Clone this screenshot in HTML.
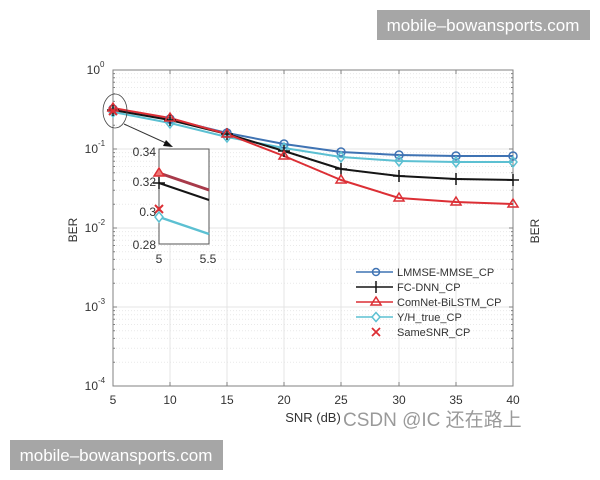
<!DOCTYPE html>
<html><head><meta charset="utf-8">
<style>
html,body{margin:0;padding:0;background:#fff;}
svg{display:block;}
text{font-family:"Liberation Sans",Arial,sans-serif;}
</style></head>
<body>
<svg width="600" height="480" viewBox="0 0 600 480" xmlns="http://www.w3.org/2000/svg">
<rect width="600" height="480" fill="#fff"/>
<!-- minor grid -->
<g stroke="#e9e9e9" stroke-width="1" stroke-dasharray="1 2" fill="none">
<path d="M113 73.6H513M113 77.7H513M113 82.2H513M113 87.5H513M113 93.8H513M113 101.4H513M113 111.3H513M113 125.2H513
M113 152.6H513M113 156.7H513M113 161.2H513M113 166.5H513M113 172.8H513M113 180.4H513M113 190.3H513M113 204.2H513
M113 231.6H513M113 235.7H513M113 240.2H513M113 245.5H513M113 251.8H513M113 259.4H513M113 269.3H513M113 283.2H513
M113 310.6H513M113 314.7H513M113 319.2H513M113 324.5H513M113 330.8H513M113 338.4H513M113 348.3H513M113 362.2H513"/>
</g>
<!-- major grid -->
<g stroke="#e4e4e4" stroke-width="1" fill="none">
<path d="M170 70V386M227 70V386M284 70V386M341 70V386M399 70V386M456 70V386M113 149H513M113 228H513M113 307H513"/>
</g>
<!-- axes box -->
<g stroke="#808080" stroke-width="1" fill="none">
<rect x="113" y="70" width="400" height="316"/>
<path d="M170 386v-4M227 386v-4M284 386v-4M341 386v-4M399 386v-4M456 386v-4
M170 70v4M227 70v4M284 70v4M341 70v4M399 70v4M456 70v4"/>
<path d="M113 149h4M113 228h4M113 307h4M513 149h-4M513 228h-4M513 307h-4"/>
<path d="M113 73.6h2M113 77.7h2M113 82.2h2M113 87.5h2M113 93.8h2M113 101.4h2M113 111.3h2M113 125.2h2
M113 152.6h2M113 156.7h2M113 161.2h2M113 166.5h2M113 172.8h2M113 180.4h2M113 190.3h2M113 204.2h2
M113 231.6h2M113 235.7h2M113 240.2h2M113 245.5h2M113 251.8h2M113 259.4h2M113 269.3h2M113 283.2h2
M113 310.6h2M113 314.7h2M113 319.2h2M113 324.5h2M113 330.8h2M113 338.4h2M113 348.3h2M113 362.2h2
M513 73.6h-2M513 77.7h-2M513 82.2h-2M513 87.5h-2M513 93.8h-2M513 101.4h-2M513 111.3h-2M513 125.2h-2
M513 152.6h-2M513 156.7h-2M513 161.2h-2M513 166.5h-2M513 172.8h-2M513 180.4h-2M513 190.3h-2M513 204.2h-2
M513 231.6h-2M513 235.7h-2M513 240.2h-2M513 245.5h-2M513 251.8h-2M513 259.4h-2M513 269.3h-2M513 283.2h-2
M513 310.6h-2M513 314.7h-2M513 319.2h-2M513 324.5h-2M513 330.8h-2M513 338.4h-2M513 348.3h-2M513 362.2h-2"/>
</g>

<!-- y tick labels -->
<g fill="#333" font-size="12">
<text x="100" y="74" text-anchor="end">10</text><text x="100" y="67" font-size="8">0</text>
<text x="98" y="153" text-anchor="end">10</text><text x="98" y="146" font-size="8">-1</text>
<text x="98" y="232" text-anchor="end">10</text><text x="98" y="225" font-size="8">-2</text>
<text x="98" y="311" text-anchor="end">10</text><text x="98" y="304" font-size="8">-3</text>
<text x="98" y="390" text-anchor="end">10</text><text x="98" y="383" font-size="8">-4</text>
</g>
<!-- x tick labels -->
<g fill="#333" font-size="12" text-anchor="middle">
<text x="113" y="404">5</text>
<text x="170" y="404">10</text>
<text x="227" y="404">15</text>
<text x="284" y="404">20</text>
<text x="341" y="404">25</text>
<text x="399" y="404">30</text>
<text x="456" y="404">35</text>
<text x="513" y="404">40</text>
</g>
<text x="313" y="422" fill="#333" font-size="13" text-anchor="middle">SNR (dB)</text>
<text x="343" y="426" fill="#9a9a9a" font-size="19" font-family="Liberation Sans, Noto Sans CJK SC, sans-serif">CSDN @IC 还在路上</text>
<text transform="translate(77,230) rotate(-90)" fill="#333" font-size="12" text-anchor="middle">BER</text>
<text transform="translate(539,231) rotate(-90)" fill="#333" font-size="12" text-anchor="middle">BER</text>

<!-- series lines -->
<g fill="none" stroke-width="2" stroke-linejoin="round">
<polyline stroke="#3f73b3" points="113,109 170,119 227,133 284,144 341,152 399,155 456,156 513,156"/>
<polyline stroke="#5cc0d2" points="113,112 170,123 227,137 284,148 341,157 399,161 456,162 513,162"/>
<polyline stroke="#151515" points="113,110 170,120 227,134 284,151 341,169 399,176 456,179 513,180"/>
<polyline stroke="#dc2f35" points="113,108 170,118 227,134 284,156 341,180 399,198 456,202 513,204"/>
</g>
<!-- markers -->
<g fill="none" stroke="#3f73b3" stroke-width="1.5">
<circle cx="113" cy="109" r="4"/><circle cx="170" cy="119" r="4"/><circle cx="227" cy="133" r="4"/><circle cx="284" cy="144" r="4"/><circle cx="341" cy="152" r="4"/><circle cx="399" cy="155" r="4"/><circle cx="456" cy="156" r="4"/><circle cx="513" cy="156" r="4"/>
</g>
<g fill="none" stroke="#5cc0d2" stroke-width="1.5">
<path d="M113 107l4 5-4 5-4-5zM170 118l4 5-4 5-4-5zM227 132l4 5-4 5-4-5zM284 143l4 5-4 5-4-5zM341 152l4 5-4 5-4-5zM399 156l4 5-4 5-4-5zM456 157l4 5-4 5-4-5zM513 157l4 5-4 5-4-5z"/>
</g>
<g fill="none" stroke="#151515" stroke-width="1.5">
<path d="M107 110h12M113 104v12M164 120h12M170 114v12M221 134h12M227 128v12M278 151h12M284 145v12M335 169h12M341 163v12M393 176h12M399 170v12M450 179h12M456 173v12M507 180h12M513 174v12"/>
</g>
<g fill="none" stroke="#dc2f35" stroke-width="1.5">
<path d="M113 103l5 8h-10zM170 113l5 8h-10zM227 129l5 8h-10zM284 151l5 8h-10zM341 175l5 8h-10zM399 193l5 8h-10zM456 197l5 8h-10zM513 199l5 8h-10z"/>
<path d="M109 107l8 8M117 107l-8 8" stroke-width="2"/>
</g>

<!-- ellipse + arrow -->
<ellipse cx="115" cy="111" rx="12" ry="17" fill="none" stroke="#444" stroke-width="0.8"/>
<line x1="124" y1="124" x2="168" y2="144" stroke="#333" stroke-width="1"/>
<path d="M173 147l-10 -1 3 -6z" fill="#111"/>

<!-- inset -->
<rect x="159" y="149" width="50" height="95" fill="#fff" stroke="#555" stroke-width="1"/>
<g fill="none" stroke-width="2.5">
<line x1="159" y1="173" x2="209" y2="190" stroke="#a83a4a" stroke-width="3"/>
<line x1="159" y1="183" x2="209" y2="200" stroke="#151515" stroke-width="2"/>
<line x1="159" y1="217" x2="209" y2="234" stroke="#5cc0d2"/>
</g>
<path d="M159 168l5 8h-10z" fill="#e77" stroke="#dc2f35" stroke-width="1.5"/>
<path d="M153 183h12M159 177v12" stroke="#151515" stroke-width="1.5"/>
<path d="M155 205l8 8M163 205l-8 8" stroke="#dc2f35" stroke-width="2"/>
<path d="M159 212l4 5-4 5-4-5z" fill="#fff" stroke="#5cc0d2" stroke-width="1.5"/>
<g fill="#333" font-size="12">
<text x="156" y="156" text-anchor="end">0.34</text>
<text x="156" y="186" text-anchor="end">0.32</text>
<text x="156" y="216" text-anchor="end">0.3</text>
<text x="156" y="249" text-anchor="end">0.28</text>
<text x="159" y="263" text-anchor="middle">5</text>
<text x="208" y="263" text-anchor="middle">5.5</text>
</g>

<!-- legend -->
<g stroke-width="1.5" fill="none">
<line x1="356" y1="272" x2="393" y2="272" stroke="#3f73b3"/>
<circle cx="376" cy="272" r="3.5" stroke="#3f73b3"/>
<line x1="356" y1="287" x2="393" y2="287" stroke="#151515"/>
<path d="M376 281v12" stroke="#151515"/>
<line x1="356" y1="302" x2="393" y2="302" stroke="#dc2f35"/>
<path d="M376 297l5 8h-10z" stroke="#dc2f35"/>
<line x1="356" y1="317" x2="393" y2="317" stroke="#5cc0d2"/>
<path d="M376 312.5l4 4.5-4 4.5-4-4.5z" stroke="#5cc0d2" fill="#fff"/>
<path d="M372 328l8 8M380 328l-8 8" stroke="#dc2f35" stroke-width="1.8"/>
</g>
<g fill="#333" font-size="11">
<text x="397" y="276">LMMSE-MMSE_CP</text>
<text x="397" y="291">FC-DNN_CP</text>
<text x="397" y="306">ComNet-BiLSTM_CP</text>
<text x="397" y="321">Y/H_true_CP</text>
<text x="397" y="336">SameSNR_CP</text>
</g>

<!-- watermarks -->
<rect x="377" y="10" width="213" height="30" fill="#a6a6a6"/>
<text x="483" y="31" fill="#fff" font-size="17" text-anchor="middle">mobile–bowansports.com</text>
<rect x="10" y="440" width="213" height="30" fill="#a6a6a6"/>
<text x="116" y="461" fill="#fff" font-size="17" text-anchor="middle">mobile–bowansports.com</text>
</svg>
</body></html>
